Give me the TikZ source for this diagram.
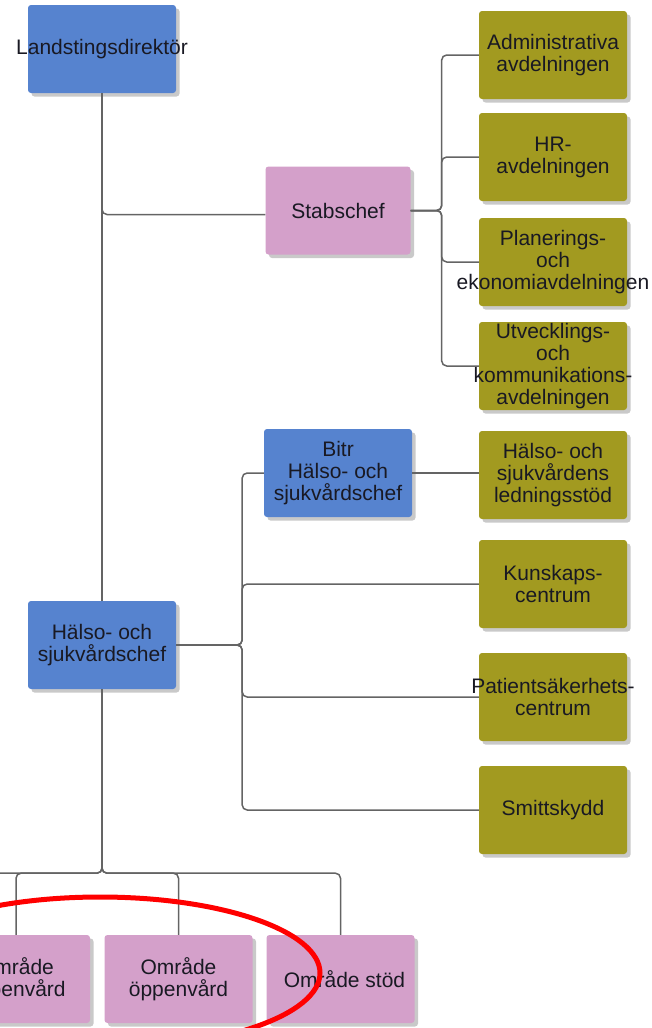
\documentclass[tikz,border=0pt]{standalone}
\usepackage{fontspec}
\setmainfont{Liberation Sans}
\usetikzlibrary{shadows}
\definecolor{bluebox}{RGB}{86,131,207}
\definecolor{olivebox}{RGB}{162,154,32}
\definecolor{pinkbox}{RGB}{212,160,202}
\definecolor{conn}{RGB}{100,100,100}
\definecolor{txtcol}{RGB}{25,25,35}
\begin{document}
\begin{tikzpicture}[x=1pt,y=-1pt,
  box/.style={rounded corners=3pt, minimum width=148pt, minimum height=88pt, inner sep=0pt,
    drop shadow={shadow xshift=3.5pt, shadow yshift=-3.5pt, opacity=0.3, fill=black!70}},
  bluenode/.style={box, fill=bluebox},
  olivenode/.style={box, fill=olivebox},
  pinknode/.style={box, fill=pinkbox},
  txt/.style={font=\fontsize{21}{22}\selectfont, align=center, inner sep=0pt, text=txtcol},
  link/.style={draw=conn, line width=1.5pt, rounded corners=5pt}
]
\useasboundingbox (0,0) rectangle (652,1028);
\clip (0,0) rectangle (652,1028);

% boxes
\node[bluenode] (ld) at (102,49) {};
\node[pinknode, minimum width=145pt] (stab) at (338,210.5) {};
\node[olivenode] (adm) at (553,55) {};
\node[olivenode] (hr) at (553,157) {};
\node[olivenode] (plan) at (553,262) {};
\node[olivenode] (utv) at (553,366) {};
\node[bluenode] (bitr) at (338,473) {};
\node[olivenode] (hsls) at (553,475) {};
\node[olivenode] (kun) at (553,584) {};
\node[olivenode] (pat) at (553,697) {};
\node[olivenode] (smi) at (553,810) {};
\node[bluenode] (hs) at (102,645) {};
\node[pinknode] (omr1) at (16,979) {};
\node[pinknode] (omr2) at (178.5,979) {};
\node[pinknode] (omr3) at (340.5,979) {};
\coordinate (offl) at (-80,873);

% texts
\node[txt] (ld-t) at (ld) {Landstingsdirektör};
\node[txt] (stab-t) at (stab) {Stabschef};
\node[txt] (adm-t) at (adm) {Administrativa\\avdelningen};
\node[txt] (hr-t) at (hr) {HR-\\avdelningen};
\node[txt] (plan-t) at (plan) {Planerings-\\och\\ekonomiavdelningen};
\node[txt] (utv-t) at (utv) {Utvecklings-\\och\\kommunikations-\\avdelningen};
\node[txt] (bitr-t) at (bitr) {Bitr\\Hälso- och\\sjukvårdschef};
\node[txt] (hsls-t) at (hsls) {Hälso- och\\sjukvårdens\\ledningsstöd};
\node[txt] (kun-t) at (kun) {Kunskaps-\\centrum};
\node[txt] (pat-t) at (pat) {Patientsäkerhets-\\centrum};
\node[txt] (smi-t) at (smi) {Smittskydd};
\node[txt] (hs-t) at (hs) {Hälso- och\\sjukvårdschef};
\node[txt] (omr1-t) at (omr1) {Område\\öppenvård};
\node[txt] (omr2-t) at (omr2) {Område\\öppenvård};
\node[txt] (omr3-t) at ([xshift=4pt]omr3) {Område stöd};

% connectors
\draw[link] (ld.south) -- (hs.north);
\draw[link] (ld.south) |- ([yshift=-4pt]stab.west);
\foreach \c in {adm,hr,plan,utv}
  \draw[link] (stab.east) -- ++(31,0) |- (\c.west);
\draw[link] (bitr.east) -- (bitr.east -| hsls.west);
\foreach \c in {bitr,kun,pat,smi}
  \draw[link] (hs.east) -- ++(66,0) |- (\c.west);
\foreach \c in {omr1,omr2,omr3}
  \draw[link] (hs.south) -- ++(0,184) -| (\c.north);
\draw[link] (hs.south) -- ++(0,184) -- (offl);

% red ellipse
\draw[red, line width=5pt] (100,973) ellipse [x radius=220pt, y radius=76pt];
\end{tikzpicture}
\end{document}
